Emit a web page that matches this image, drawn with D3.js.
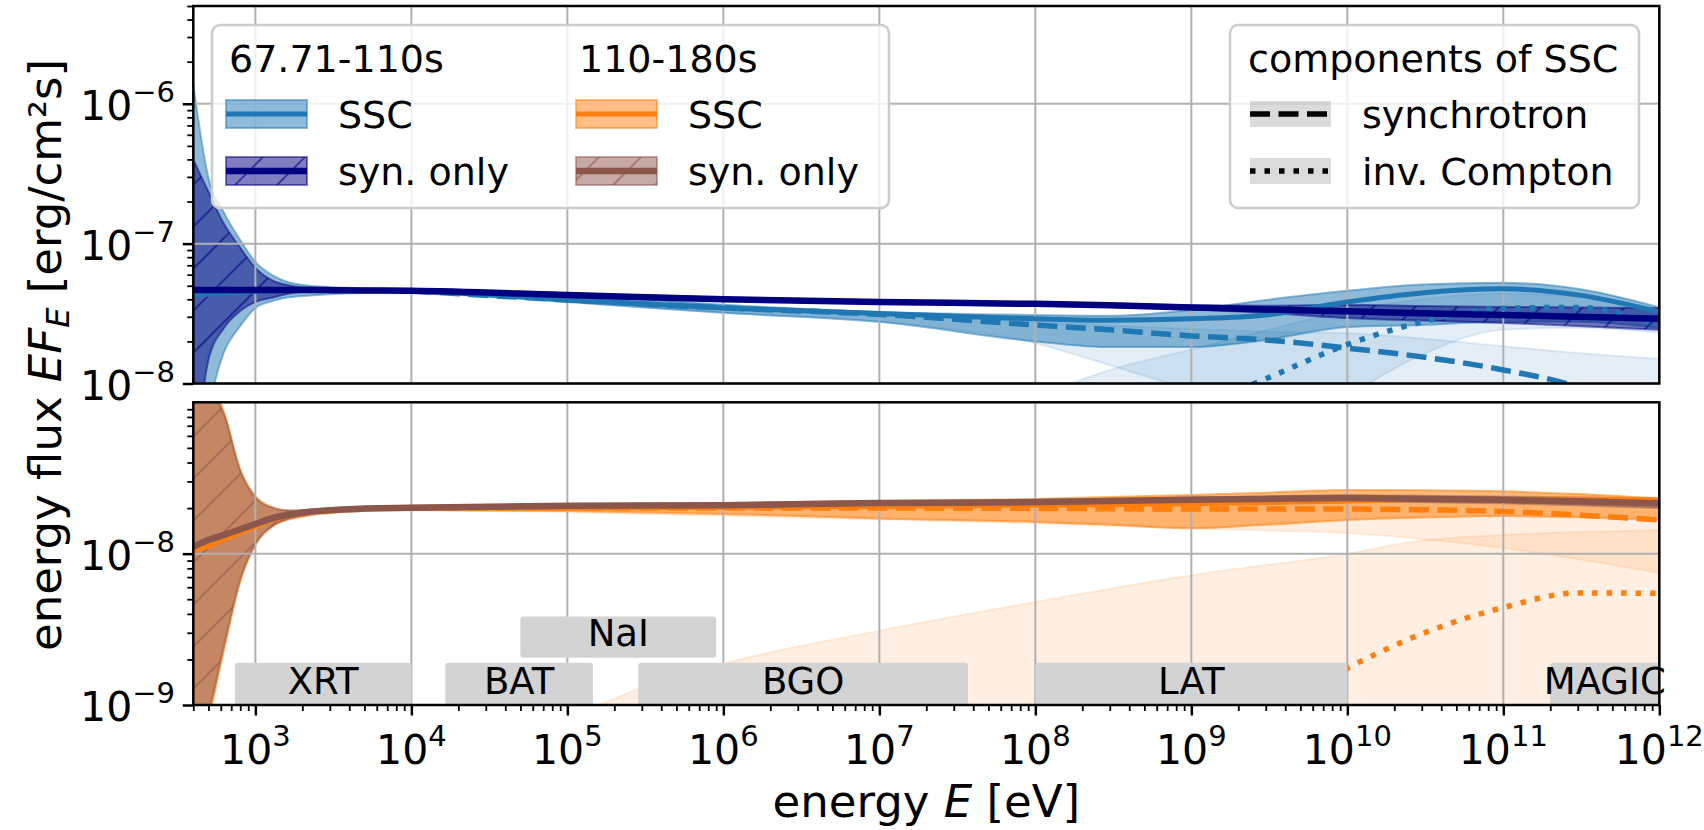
<!DOCTYPE html>
<html>
<head>
<meta charset="utf-8">
<title>SSC energy flux</title>
<script src="https://cdn.jsdelivr.net/npm/d3@7"></script>
<style>
body { margin: 0; background: #fff; }
svg { display: block; }
text { font-family: "DejaVu Sans", sans-serif; fill: #000; }
</style>
</head>
<body>
<svg id="chart" width="1704" height="830"></svg>
<script>
// energy grid [eV] for the medians and the bands
var energy = [400, 500, 630, 800, 1e3, 1.3e3, 1.6e3, 2e3, 2.5e3, 3.2e3, 5e3, 1e4, 1e5, 1e6, 1e7, 1e8, 3e8, 1e9, 3e9, 1e10, 3e10, 1e11, 3e11, 1e12];
// grids for the SSC components
var compEnergy = [1e4, 1e5, 1e6, 1e7, 1e8, 3e8, 1e9, 3e9, 1e10, 3e10, 1e11, 3e11, 1e12];
var icEnergy1 = [1e8, 3e8, 1e9, 3e9, 1e10, 3e10, 1e11, 3e11, 1e12];
var icEnergy2 = [1e5, 3e5, 1e6, 1e7, 1e8, 1e9, 1e10, 3e10, 1e11, 3e11, 1e12];

// 67.71-110s  (top panel)
var sscMid1 = [4.30e-8, 4.35e-8, 4.40e-8, 4.48e-8, 4.55e-8, 4.62e-8, 4.66e-8, 4.68e-8, 4.68e-8, 4.67e-8, 4.64e-8, 4.59e-8, 3.96e-8, 3.47e-8, 3.17e-8, 2.90e-8, 2.83e-8, 2.90e-8, 3.09e-8, 3.83e-8, 4.44e-8, 4.75e-8, 4.30e-8, 3.25e-8];
var sscHi1  = [1.37e-6, 2.96e-7, 1.66e-7, 1.06e-7, 7.4e-8, 5.9e-8, 5.33e-8, 5.07e-8, 4.95e-8, 4.87e-8, 4.79e-8, 4.70e-8, 4.37e-8, 3.65e-8, 3.25e-8, 3.09e-8, 3.05e-8, 3.36e-8, 3.96e-8, 4.60e-8, 5.10e-8, 5.25e-8, 4.75e-8, 3.50e-8];
var sscLo1  = [3e-9, 7e-9, 1.68e-8, 2.58e-8, 3.47e-8, 3.90e-8, 4.12e-8, 4.23e-8, 4.30e-8, 4.37e-8, 4.44e-8, 4.44e-8, 3.83e-8, 3.20e-8, 2.76e-8, 2.00e-8, 1.82e-8, 1.82e-8, 2.05e-8, 2.54e-8, 2.62e-8, 2.76e-8, 2.76e-8, 2.49e-8];
var synMid1 = [4.67e-8, 4.67e-8, 4.67e-8, 4.67e-8, 4.67e-8, 4.67e-8, 4.67e-8, 4.67e-8, 4.66e-8, 4.65e-8, 4.63e-8, 4.60e-8, 4.30e-8, 4.00e-8, 3.82e-8, 3.71e-8, 3.62e-8, 3.50e-8, 3.38e-8, 3.28e-8, 3.18e-8, 3.09e-8, 3.00e-8, 2.90e-8];
var synHi1  = [3.98e-7, 2.35e-7, 1.38e-7, 9.33e-8, 6.71e-8, 5.42e-8, 5.06e-8, 4.87e-8, 4.82e-8, 4.77e-8, 4.73e-8, 4.70e-8, 4.42e-8, 4.12e-8, 3.93e-8, 3.82e-8, 3.73e-8, 3.62e-8, 3.60e-8, 3.65e-8, 3.58e-8, 3.53e-8, 3.50e-8, 3.47e-8];
var synLo1  = [2e-9, 1.47e-8, 2.50e-8, 3.30e-8, 3.83e-8, 4.12e-8, 4.37e-8, 4.52e-8, 4.56e-8, 4.58e-8, 4.57e-8, 4.53e-8, 4.20e-8, 3.90e-8, 3.72e-8, 3.60e-8, 3.52e-8, 3.40e-8, 3.20e-8, 2.94e-8, 2.82e-8, 2.71e-8, 2.58e-8, 2.42e-8];
var sync1   = [4.59e-8, 3.96e-8, 3.47e-8, 3.12e-8, 2.62e-8, 2.42e-8, 2.19e-8, 2.05e-8, 1.79e-8, 1.55e-8, 1.25e-8, 9.4e-9, 5e-9];
var syncHi1 = [4.70e-8, 4.37e-8, 3.65e-8, 3.20e-8, 2.75e-8, 2.60e-8, 2.45e-8, 2.35e-8, 2.30e-8, 2.10e-8, 1.85e-8, 1.65e-8, 1.50e-8];
var syncLo1 = [4.44e-8, 3.83e-8, 3.20e-8, 2.76e-8, 1.94e-8, 1.35e-8, 9e-9, 6.5e-9, 4.5e-9, 3e-9, 2e-9, 1.2e-9, 6e-10];
var ic1     = [1.5e-9, 3.5e-9, 6.5e-9, 1.08e-8, 1.90e-8, 2.75e-8, 3.45e-8, 3.50e-8, 2.62e-8];
var icHi1   = [8e-9, 1.25e-8, 1.75e-8, 2.40e-8, 3.30e-8, 4.00e-8, 4.40e-8, 4.20e-8, 3.30e-8];
var icLo1   = [3e-10, 6e-10, 1.2e-9, 3e-9, 8e-9, 1.6e-8, 2.42e-8, 2.50e-8, 2.30e-8];

// 110-180s  (bottom panel)
var sscMid2 = [1.03e-8, 1.12e-8, 1.23e-8, 1.37e-8, 1.50e-8, 1.67e-8, 1.77e-8, 1.86e-8, 1.91e-8, 1.94e-8, 1.97e-8, 2.00e-8, 2.00e-8, 2.02e-8, 2.05e-8, 2.08e-8, 2.10e-8, 2.13e-8, 2.17e-8, 2.22e-8, 2.27e-8, 2.30e-8, 2.30e-8, 2.27e-8];
var sscHi2  = [2e-7, 1.4e-7, 8.6e-8, 3.62e-8, 2.40e-8, 2.02e-8, 1.93e-8, 1.92e-8, 1.94e-8, 1.97e-8, 2.02e-8, 2.07e-8, 2.12e-8, 2.16e-8, 2.23e-8, 2.30e-8, 2.37e-8, 2.44e-8, 2.53e-8, 2.63e-8, 2.62e-8, 2.58e-8, 2.48e-8, 2.32e-8];
var sscLo2  = [4e-10, 8e-10, 2.31e-9, 6.5e-9, 1.14e-8, 1.52e-8, 1.67e-8, 1.75e-8, 1.82e-8, 1.86e-8, 1.91e-8, 1.94e-8, 1.91e-8, 1.83e-8, 1.71e-8, 1.62e-8, 1.55e-8, 1.47e-8, 1.55e-8, 1.67e-8, 1.73e-8, 1.77e-8, 1.74e-8, 1.67e-8];
var synMid2 = [1.11e-8, 1.23e-8, 1.33e-8, 1.45e-8, 1.57e-8, 1.72e-8, 1.80e-8, 1.87e-8, 1.91e-8, 1.94e-8, 1.99e-8, 2.01e-8, 2.07e-8, 2.09e-8, 2.16e-8, 2.19e-8, 2.23e-8, 2.27e-8, 2.30e-8, 2.33e-8, 2.30e-8, 2.27e-8, 2.22e-8, 2.15e-8];
var synHi2  = [1.8e-7, 1.25e-7, 8.3e-8, 3.5e-8, 2.35e-8, 2.00e-8, 1.93e-8, 1.93e-8, 1.95e-8, 1.98e-8, 2.03e-8, 2.06e-8, 2.12e-8, 2.15e-8, 2.22e-8, 2.26e-8, 2.30e-8, 2.35e-8, 2.39e-8, 2.43e-8, 2.41e-8, 2.38e-8, 2.35e-8, 2.30e-8];
var synLo2  = [5e-10, 9e-10, 2.5e-9, 6.8e-9, 1.16e-8, 1.54e-8, 1.69e-8, 1.78e-8, 1.85e-8, 1.89e-8, 1.95e-8, 1.97e-8, 2.03e-8, 2.04e-8, 2.10e-8, 2.13e-8, 2.16e-8, 2.19e-8, 2.20e-8, 2.22e-8, 2.19e-8, 2.15e-8, 2.09e-8, 2.00e-8];
var sync2   = [2.00e-8, 2.00e-8, 2.00e-8, 2.00e-8, 1.99e-8, 1.98e-8, 1.97e-8, 1.97e-8, 1.97e-8, 1.95e-8, 1.90e-8, 1.80e-8, 1.67e-8];
var syncHi2 = [2.07e-8, 2.12e-8, 2.16e-8, 2.20e-8, 2.25e-8, 2.28e-8, 2.32e-8, 2.36e-8, 2.40e-8, 2.38e-8, 2.33e-8, 2.25e-8, 2.12e-8];
var syncLo2 = [1.94e-8, 1.88e-8, 1.78e-8, 1.68e-8, 1.59e-8, 1.53e-8, 1.47e-8, 1.42e-8, 1.37e-8, 1.25e-8, 1.09e-8, 9.2e-9, 7.45e-9];
var ic2     = [1e-12, 4e-12, 1e-11, 3e-11, 1e-10, 4e-10, 1.75e-9, 2.95e-9, 4.4e-9, 5.5e-9, 5.47e-9];
var icHi2   = [8e-10, 1.3e-9, 1.88e-9, 3.1e-9, 4.8e-9, 7.2e-9, 1.0e-8, 1.22e-8, 1.33e-8, 1.39e-8, 1.43e-8];
var icLo2   = [5e-12, 1e-11, 5e-11, 1e-10, 2e-10, 3e-10, 5e-10, 6e-10, 7e-10, 8e-10, 8e-10];

// instrument ranges drawn as grey boxes in the lower panel
var instruments = ["XRT", "BAT", "NaI", "BGO", "LAT", "MAGIC"];
var instLow     = [740, 1.65e4, 5e4, 2.85e5, 1e8, 2e11];
var instHigh    = [1e4, 1.46e5, 9e5, 3.7e7, 1e10, 1e12];
var instBottom  = [1e-9, 1e-9, 2.05e-9, 1e-9, 1e-9, 1e-9];
var instTop     = [1.9e-9, 1.9e-9, 3.85e-9, 1.9e-9, 1.9e-9, 1.9e-9];

// tick labels (powers of ten)
var xTickExp = [3, 4, 5, 6, 7, 8, 9, 10, 11, 12];
var yTopTickExp = [-8, -7, -6];
var yBotTickExp = [-9, -8];

var legendTitles = ["67.71-110s", "110-180s"];
var legendLabels = ["SSC", "syn. only"];
var compTitle = "components of SSC";
var compLabels = ["synchrotron", "inv. Compton"];

var colSSC = ["#1f77b4", "#ff7f0e"];
var colSyn = ["#000080", "#8c564b"];

// geometry
var left = 193.3, right = 1659.3;
var x = d3.scaleLog().domain([400, 1e12]).range([left, right]);
var yTop = d3.scaleLog().domain([1e-8, 5e-6]).range([383.5, 6]);
var yBot = d3.scaleLog().domain([1e-9, 1e-7]).range([705, 402.3]);

var svg = d3.select("#chart");
var defs = svg.append("defs");

function hatch(id, color) {
  var p = defs.append("pattern").attr("id", id)
      .attr("patternUnits", "userSpaceOnUse").attr("width", 42).attr("height", 42);
  p.append("path").attr("d", "M-10,10L10,-10M0,42L42,0M32,52L52,32")
      .attr("stroke", color).attr("stroke-opacity", 0.55).attr("stroke-width", 2).attr("fill", "none");
}
hatch("hatch0", colSyn[0]);
hatch("hatch1", colSyn[1]);

function makePanel(y, id) {
  var r = y.range();
  defs.append("clipPath").attr("id", id).append("rect")
      .attr("x", left).attr("y", r[1]).attr("width", right - left).attr("height", r[0] - r[1]);
  var p = {y: y, top: r[1], bottom: r[0]};
  p.bands = svg.append("g").attr("clip-path", "url(#" + id + ")");
  p.grid = svg.append("g");
  p.lines = svg.append("g").attr("clip-path", "url(#" + id + ")");
  p.over = svg.append("g");
  return p;
}

function band(p, xs, lo, hi, color, alpha, hatchId) {
  var pts = xs.map(function(e, i) { return {e: e, lo: lo[i], hi: hi[i]}; });
  var area = d3.area()
      .x(function(d) { return x(d.e); })
      .y0(function(d) { return p.y(d.lo); })
      .y1(function(d) { return p.y(d.hi); })
      .curve(d3.curveMonotoneX);
  p.bands.append("path").attr("d", area(pts))
      .attr("fill", color).attr("fill-opacity", alpha)
      .attr("stroke", color).attr("stroke-opacity", alpha).attr("stroke-width", 2);
  if (hatchId) p.bands.append("path").attr("d", area(pts)).attr("fill", "url(#" + hatchId + ")");
}

function curve(p, xs, vals, color, width, dash) {
  var line = d3.line()
      .x(function(d, i) { return x(xs[i]); })
      .y(function(d) { return p.y(d); })
      .curve(d3.curveMonotoneX);
  p.lines.append("path").attr("d", line(vals))
      .attr("fill", "none").attr("stroke", color).attr("stroke-width", width)
      .attr("stroke-dasharray", dash || null);
}

function powLabel(g, px, py, exp, anchor) {
  var t = g.append("text").attr("x", px).attr("y", py)
      .attr("text-anchor", anchor).style("font-size", "41px");
  t.append("tspan").text("10");
  t.append("tspan").attr("dy", -18).style("font-size", "29px")
      .text(exp < 0 ? "\u2212" + (-exp) : String(exp));
}

function minorTicks(lo, hi) {
  var out = [];
  for (var d = Math.floor(Math.log10(lo)); d <= Math.ceil(Math.log10(hi)); d++)
    for (var m = 2; m < 10; m++) {
      var v = m * Math.pow(10, d);
      if (v >= lo && v <= hi) out.push(v);
    }
  return out;
}

function frame(p, yExp, withX) {
  // grid
  xTickExp.forEach(function(k) {
    p.grid.append("line").attr("x1", x(Math.pow(10, k))).attr("x2", x(Math.pow(10, k)))
        .attr("y1", p.top).attr("y2", p.bottom).attr("stroke", "#b0b0b0").attr("stroke-width", 2);
  });
  yExp.forEach(function(k) {
    p.grid.append("line").attr("x1", left).attr("x2", right)
        .attr("y1", p.y(Math.pow(10, k))).attr("y2", p.y(Math.pow(10, k)))
        .attr("stroke", "#b0b0b0").attr("stroke-width", 2);
  });
  var ax = svg.append("g");
  // y ticks
  var yd = p.y.domain();
  var yMaj = d3.axisLeft(p.y).tickValues(yExp.map(function(k) { return Math.pow(10, k); }))
      .tickSize(10.5).tickFormat("");
  var yMin = d3.axisLeft(p.y).tickValues(minorTicks(yd[0], yd[1])).tickSize(6).tickFormat("");
  ax.append("g").attr("transform", "translate(" + left + ",0)").call(yMaj)
      .call(function(g) { g.select(".domain").remove(); g.selectAll("line").attr("stroke-width", 2.5); });
  ax.append("g").attr("transform", "translate(" + left + ",0)").call(yMin)
      .call(function(g) { g.select(".domain").remove(); g.selectAll("line").attr("stroke-width", 1.8); });
  yExp.forEach(function(k) { powLabel(ax, 175, p.y(Math.pow(10, k)) + 16, k, "end"); });
  if (withX) {
    var xMaj = d3.axisBottom(x).tickValues(xTickExp.map(function(k) { return Math.pow(10, k); }))
        .tickSize(10.5).tickFormat("");
    var xMin = d3.axisBottom(x).tickValues(minorTicks(400, 1e12)).tickSize(6).tickFormat("");
    ax.append("g").attr("transform", "translate(0," + p.bottom + ")").call(xMaj)
        .call(function(g) { g.select(".domain").remove(); g.selectAll("line").attr("stroke-width", 2.5); });
    ax.append("g").attr("transform", "translate(0," + p.bottom + ")").call(xMin)
        .call(function(g) { g.select(".domain").remove(); g.selectAll("line").attr("stroke-width", 1.8); });
    xTickExp.forEach(function(k) { powLabel(ax, x(Math.pow(10, k)), 764, k, "middle"); });
  }
  ax.append("rect").attr("x", left).attr("y", p.top)
      .attr("width", right - left).attr("height", p.bottom - p.top)
      .attr("fill", "none").attr("stroke", "#000").attr("stroke-width", 2.5);
}

// ---- top panel: 67.71-110s
var panelA = makePanel(yTop, "clipTop");
band(panelA, compEnergy, syncLo1, syncHi1, colSSC[0], 0.12);
band(panelA, icEnergy1, icLo1, icHi1, colSSC[0], 0.12);
band(panelA, energy, sscLo1, sscHi1, colSSC[0], 0.5);
band(panelA, energy, synLo1, synHi1, colSyn[0], 0.5, "hatch0");
curve(panelA, energy, sscMid1, colSSC[0], 5);
curve(panelA, compEnergy, sync1, colSSC[0], 5.5, "20,8.5");
curve(panelA, icEnergy1, ic1, colSSC[0], 5.5, "5.5,9");
curve(panelA, energy, synMid1, colSyn[0], 6.5);
frame(panelA, yTopTickExp, false);

// ---- bottom panel: 110-180s
var panelB = makePanel(yBot, "clipBot");
band(panelB, compEnergy, syncLo2, syncHi2, colSSC[1], 0.12);
band(panelB, icEnergy2, icLo2, icHi2, colSSC[1], 0.12);
band(panelB, energy, sscLo2, sscHi2, colSSC[1], 0.55);
band(panelB, energy, synLo2, synHi2, colSyn[1], 0.5, "hatch1");
curve(panelB, energy, sscMid2, colSSC[1], 4.5);
curve(panelB, compEnergy, sync2, colSSC[1], 5.5, "20,8.5");
curve(panelB, icEnergy2, ic2, colSSC[1], 5.5, "5.5,9");
curve(panelB, energy, synMid2, colSyn[1], 6.5);

// instrument boxes
instruments.forEach(function(name, i) {
  var x0 = x(instLow[i]), x1 = x(instHigh[i]);
  var y0 = yBot(instTop[i]), y1 = yBot(instBottom[i]);
  panelB.over.append("rect").attr("x", x0).attr("y", y0).attr("width", x1 - x0).attr("height", y1 - y0)
      .attr("rx", 3).attr("fill", "#d3d3d3");
  panelB.over.append("text").attr("x", (x0 + x1) / 2).attr("y", y1 - 11.5)
      .attr("text-anchor", "middle").style("font-size", "37px").text(name);
});
frame(panelB, yBotTickExp, true);

// axis labels
var xl = svg.append("text").attr("x", (left + right) / 2).attr("y", 817)
    .attr("text-anchor", "middle").style("font-size", "45px");
xl.append("tspan").text("energy ");
xl.append("tspan").style("font-style", "italic").text("E");
xl.append("tspan").text(" [eV]");

var yl = svg.append("text").attr("transform", "translate(60.5,355) rotate(-90)")
    .attr("text-anchor", "middle").style("font-size", "45px");
yl.append("tspan").text("energy flux ");
yl.append("tspan").style("font-style", "italic").text("EF");
yl.append("tspan").style("font-style", "italic").style("font-size", "32px").attr("dy", 8).text("E");
yl.append("tspan").attr("dy", -8).text(" [erg/cm\u00b2s]");

// ---- legends
function legendFrame(x0, y0, w, h) {
  svg.append("rect").attr("x", x0).attr("y", y0).attr("width", w).attr("height", h).attr("rx", 8)
      .attr("fill", "#fff").attr("fill-opacity", 0.8)
      .attr("stroke", "#cccccc").attr("stroke-width", 2.5);
}
function legText(px, py, s) {
  svg.append("text").attr("x", px).attr("y", py).style("font-size", "38px").text(s);
}

legendFrame(212, 25, 677, 183);
[226, 576].forEach(function(cx, c) {
  legText(cx + 3, 72, legendTitles[c]);
  // SSC swatch
  svg.append("rect").attr("x", cx).attr("y", 100).attr("width", 81).attr("height", 28)
      .attr("fill", colSSC[c]).attr("fill-opacity", 0.5)
      .attr("stroke", colSSC[c]).attr("stroke-opacity", 0.5).attr("stroke-width", 2);
  svg.append("line").attr("x1", cx).attr("x2", cx + 81).attr("y1", 114).attr("y2", 114)
      .attr("stroke", colSSC[c]).attr("stroke-width", 5);
  legText(cx + 112, 128, legendLabels[0]);
  // syn. only swatch
  svg.append("rect").attr("x", cx).attr("y", 157).attr("width", 81).attr("height", 28)
      .attr("fill", colSyn[c]).attr("fill-opacity", 0.5)
      .attr("stroke", colSyn[c]).attr("stroke-opacity", 0.5).attr("stroke-width", 2);
  svg.append("rect").attr("x", cx).attr("y", 157).attr("width", 81).attr("height", 28)
      .attr("fill", "url(#hatch" + c + ")");
  svg.append("line").attr("x1", cx).attr("x2", cx + 81).attr("y1", 171).attr("y2", 171)
      .attr("stroke", colSyn[c]).attr("stroke-width", 6.5);
  legText(cx + 112, 185, legendLabels[1]);
});

legendFrame(1230, 25, 409, 183);
legText(1248, 72, compTitle);
[["20,8.5", 114], ["5.5,9", 171]].forEach(function(s, i) {
  svg.append("rect").attr("x", 1250).attr("y", s[1] - 13).attr("width", 81).attr("height", 26)
      .attr("fill", "#000").attr("fill-opacity", 0.14);
  svg.append("line").attr("x1", 1250).attr("x2", 1331).attr("y1", s[1]).attr("y2", s[1])
      .attr("stroke", "#000").attr("stroke-width", 5.5).attr("stroke-dasharray", s[0]);
  legText(1362, s[1] + 14, compLabels[i]);
});
</script>
</body>
</html>
